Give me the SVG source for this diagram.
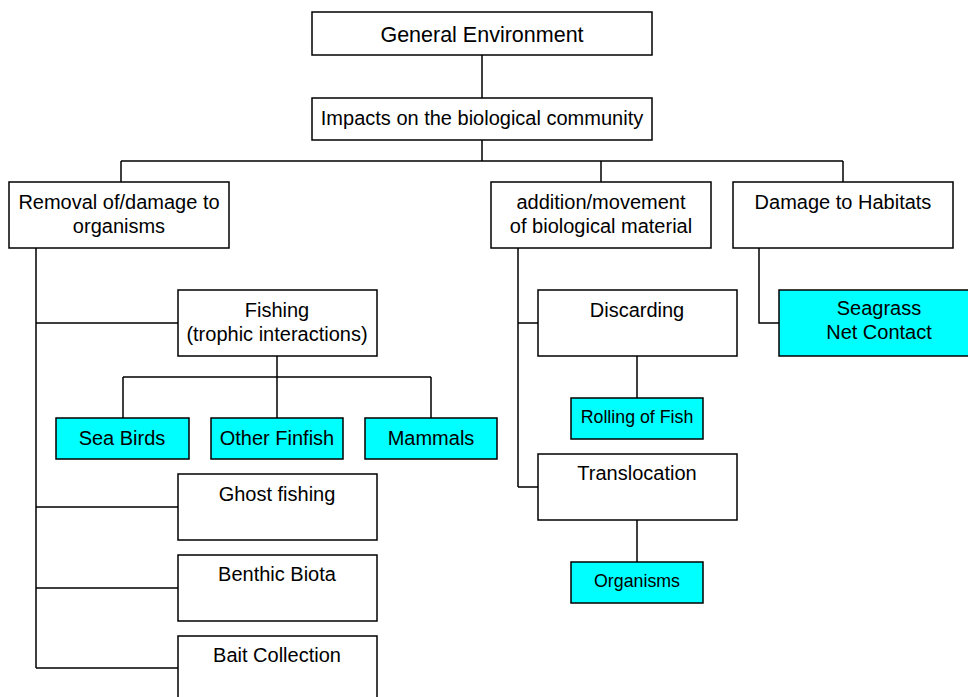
<svg xmlns="http://www.w3.org/2000/svg" width="968" height="697" viewBox="0 0 968 697">
<style>
.b{fill:#fff;stroke:#000;stroke-width:1.5}
.c{fill:#00ffff;stroke:#000;stroke-width:1.5}
.l{fill:none;stroke:#000;stroke-width:1.5}
text{font-family:"Liberation Sans",Arial,sans-serif;font-size:20px;fill:#000;text-anchor:middle}
.s{font-size:17.8px}
.t{font-size:21.5px}
</style>
<rect width="968" height="697" fill="#fff"/>
<g id="connectors">
<path class="l" d="M482,55V98M482,140V161M121,161H843M121,161V182M601,161V182M843,161V182"/>
<path class="l" d="M36,248V668M36,323H178M36,507H178M36,588H178M36,668H178"/>
<path class="l" d="M277,356V377M123,377H431M123,377V418M277,377V418M431,377V418"/>
<path class="l" d="M518,248V487M518,323H538M518,487H538M637,356V398M637,520V562"/>
<path class="l" d="M759,248V323H779"/>
</g>
<g id="general"><rect class="b" x="312" y="12" width="340" height="43"/><text class="t" x="482" y="42">General Environment</text></g>
<g id="impacts"><rect class="b" x="312" y="98" width="340" height="42"/><text x="482" y="125">Impacts on the biological community</text></g>
<g id="removal"><rect class="b" x="9" y="182" width="220" height="66"/><text x="119" y="209">Removal of/damage to</text><text x="119" y="233">organisms</text></g>
<g id="addition"><rect class="b" x="491" y="182" width="220" height="66"/><text x="601" y="209">addition/movement</text><text x="601" y="233">of biological material</text></g>
<g id="habitats"><rect class="b" x="733" y="182" width="220" height="66"/><text x="843" y="209">Damage to Habitats</text></g>
<g id="fishing"><rect class="b" x="178" y="290" width="199" height="66"/><text x="277" y="317">Fishing</text><text x="277" y="341">(trophic interactions)</text></g>
<g id="seabirds"><rect class="c" x="56" y="418" width="133" height="41"/><text x="122" y="445">Sea Birds</text></g>
<g id="finfish"><rect class="c" x="211" y="418" width="132" height="41"/><text x="277" y="445">Other Finfish</text></g>
<g id="mammals"><rect class="c" x="365" y="418" width="132" height="41"/><text x="431" y="445">Mammals</text></g>
<g id="ghost"><rect class="b" x="178" y="474" width="199" height="66"/><text x="277" y="501">Ghost fishing</text></g>
<g id="benthic"><rect class="b" x="178" y="555" width="199" height="66"/><text x="277" y="581">Benthic Biota</text></g>
<g id="bait"><rect class="b" x="178" y="636" width="199" height="66"/><text x="277" y="662">Bait Collection</text></g>
<g id="discarding"><rect class="b" x="538" y="290" width="199" height="66"/><text x="637" y="317">Discarding</text></g>
<g id="rolling"><rect class="c" x="571" y="398" width="132" height="41"/><text class="s" x="637" y="423">Rolling of Fish</text></g>
<g id="translocation"><rect class="b" x="538" y="454" width="199" height="66"/><text x="637" y="480">Translocation</text></g>
<g id="organisms"><rect class="c" x="571" y="562" width="132" height="41"/><text class="s" x="637" y="587">Organisms</text></g>
<g id="seagrass"><rect class="c" x="779" y="290" width="200" height="66"/><text x="879" y="315">Seagrass</text><text x="879" y="339">Net Contact</text></g>
</svg>
